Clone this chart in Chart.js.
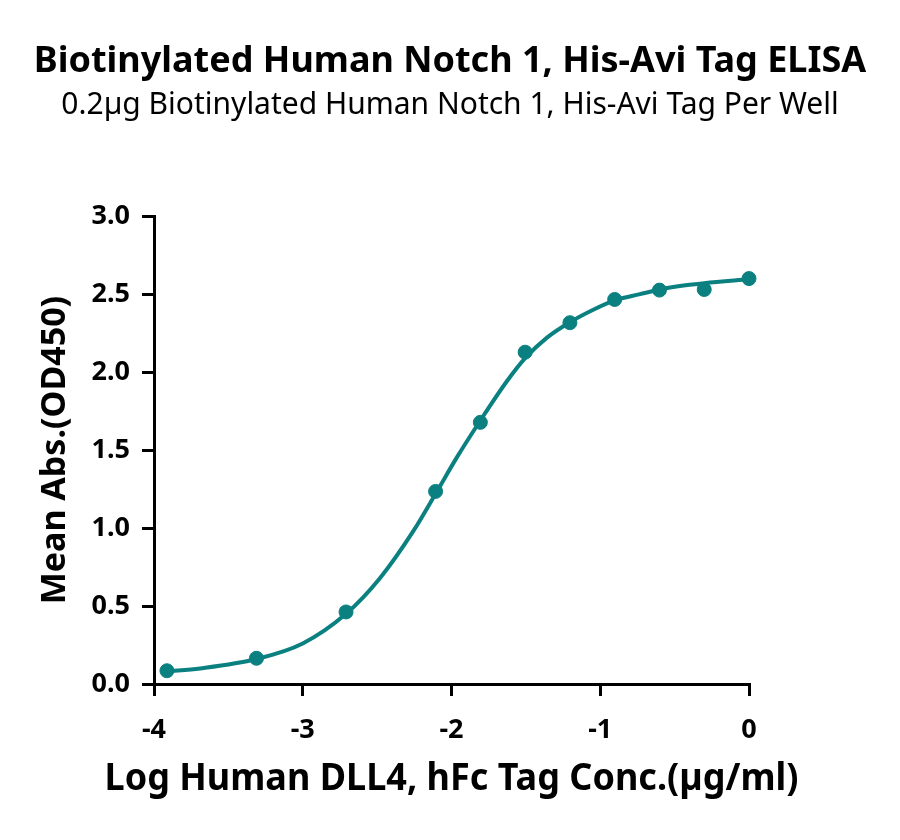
<!DOCTYPE html>
<html>
<head>
<meta charset="utf-8">
<script src="https://cdn.jsdelivr.net/npm/chart.js@4.4.1/dist/chart.umd.min.js"></script>
<style>
    html, body { margin: 0; padding: 0; background: #fff; }
    #wrap { width: 900px; height: 840px; }
</style>
</head>
<body>
<div id="wrap"><canvas id="elisa" width="900" height="840"></canvas></div>
<script>
(function () {
    'use strict';

    // measured points: log concentration (ug/ml) vs mean OD450
    const logConc = [-3.913, -3.311, -2.709, -2.107, -1.806, -1.505, -1.204, -0.903, -0.602, -0.301, 0];
    const meanAbs = [0.085, 0.165, 0.462, 1.235, 1.678, 2.128, 2.317, 2.466, 2.526, 2.53, 2.60];

    // fitted curve
    const fitX = [-3.913, -3.69, -3.311, -3.0, -2.709, -2.48, -2.257, -2.107, -1.966, -1.806, -1.629, -1.505, -1.36, -1.204, -1.047, -0.903, -0.733, -0.602, -0.44, -0.301, 0];
    const fitY = [0.08, 0.10, 0.16, 0.26, 0.45, 0.68, 0.98, 1.22, 1.45, 1.69, 1.94, 2.09, 2.22, 2.32, 2.40, 2.46, 2.50, 2.53, 2.555, 2.57, 2.595];

    const xTicks = [-4, -3, -2, -1, 0];
    const xTickLabels = ['-4', '-3', '-2', '-1', '0'];
    const yTickLabels = ['0.0', '0.5', '1.0', '1.5', '2.0', '2.5', '3.0'];

    const xTitle = 'Log Human DLL4, hFc Tag Conc.(\u00b5g/ml)';

    const teal = '#0b8080';
    const font = 'Noto Sans';

    const toXY = (xs, ys) => xs.map((x, i) => ({ x: x, y: ys[i] }));

    // the x title is wider than the plot, Chart.js would squeeze it, so draw it here
    const xTitlePlugin = {
        id: 'xTitle',
        afterDraw: function (chart) {
            const c = chart.ctx;
            const area = chart.chartArea;
            c.save();
            c.fillStyle = '#000';
            c.font = 'bold 38px "' + font + '"';
            c.textAlign = 'center';
            c.textBaseline = 'middle';
            c.fillText(xTitle, (area.left + area.right) / 2, 779, 694);
            c.restore();
        }
    };

    const ctx = document.getElementById('elisa').getContext('2d');
    new Chart(ctx, {
        type: 'scatter',
        data: {
            datasets: [{
                label: 'fit',
                data: toXY(fitX, fitY),
                showLine: true,
                borderColor: teal,
                borderWidth: 4,
                pointRadius: 0,
                cubicInterpolationMode: 'monotone',
                clip: false
            }, {
                label: 'points',
                data: toXY(logConc, meanAbs),
                showLine: false,
                backgroundColor: teal,
                borderColor: teal,
                pointRadius: 7,
                clip: false
            }]
        },
        options: {
            responsive: false,
            animation: false,
            layout: { padding: 0 },
            plugins: {
                legend: { display: false },
                tooltip: { enabled: false },
                title: {
                    display: true,
                    text: 'Biotinylated Human Notch 1, His-Avi Tag ELISA',
                    color: '#000',
                    font: { family: font, size: 36, weight: 'bold' },
                    padding: { top: 40, bottom: 0 }
                },
                subtitle: {
                    display: true,
                    text: '0.2\u00b5g Biotinylated Human Notch 1, His-Avi Tag Per Well',
                    color: '#000',
                    font: { family: font, size: 30, weight: 'normal' },
                    padding: { top: 4, bottom: 93 }
                }
            },
            scales: {
                x: {
                    type: 'linear',
                    min: -4,
                    max: 0,
                    afterFit: function (scale) { scale.height = 156; },
                    afterBuildTicks: function (scale) {
                        scale.ticks = xTicks.map(v => ({ value: v }));
                    },
                    ticks: {
                        color: '#000',
                        padding: 18,
                        font: { family: font, size: 27, weight: 'bold' },
                        callback: function (v) {
                            const i = xTicks.indexOf(v);
                            return i >= 0 ? xTickLabels[i] : '';
                        }
                    },
                    grid: { drawOnChartArea: false, drawTicks: true, tickLength: 12, color: '#000', lineWidth: 3 },
                    border: { display: true, color: '#000', width: 3 },
                    title: { display: false }
                },
                y: {
                    min: 0,
                    max: 3,
                    afterFit: function (scale) { scale.width = 154; },
                    ticks: {
                        stepSize: 0.5,
                        color: '#000',
                        padding: 12,
                        font: { family: font, size: 27, weight: 'bold' },
                        callback: function (v) {
                            return yTickLabels[Math.round(v * 2)];
                        }
                    },
                    grid: { drawOnChartArea: false, drawTicks: true, tickLength: 12, color: '#000', lineWidth: 3 },
                    border: { display: true, color: '#000', width: 3 },
                    title: {
                        display: true,
                        text: 'Mean Abs.(OD450)',
                        color: '#000',
                        font: { family: font, size: 34, weight: 'bold' },
                        padding: { top: 35, bottom: 0 }
                    }
                },
                // empty axis on the right, only to keep the plot width
                yRight: {
                    position: 'right',
                    display: true,
                    afterFit: function (scale) { scale.width = 151; },
                    ticks: { display: false },
                    grid: { display: false, drawTicks: false },
                    border: { display: false }
                }
            }
        },
        plugins: [xTitlePlugin]
    });
})();
</script>
</body>
</html>
